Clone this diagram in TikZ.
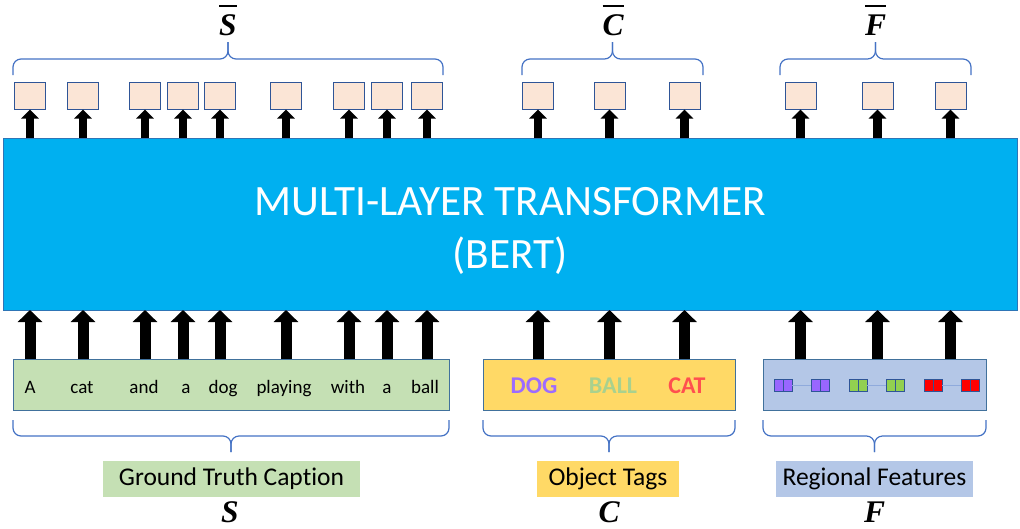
\documentclass[tikz,border=0pt]{standalone}
\usepackage{fontspec}
\setmainfont{Carlito}[Ligatures=NoCommon]
\newfontfamily\letterfont{Liberation Serif}
\usetikzlibrary{arrows.meta}

\definecolor{bertblue}{HTML}{00B0F0}
\definecolor{bertedge}{HTML}{2E75B6}
\definecolor{tokfill}{HTML}{FBE5D6}
\definecolor{tokedge}{HTML}{2F5597}
\definecolor{boxedge}{HTML}{41719C}
\definecolor{capgreen}{HTML}{C5E0B4}
\definecolor{tagyellow}{HTML}{FFD966}
\definecolor{featblue}{HTML}{B4C7E7}
\definecolor{bracecol}{HTML}{4472C4}
\definecolor{dogcol}{HTML}{9D6BFF}
\definecolor{ballcol}{HTML}{A9D18E}
\definecolor{catcol}{HTML}{FF4F4F}
\definecolor{sqpurple}{HTML}{9966FF}
\definecolor{sqgreen}{HTML}{92D050}
\definecolor{sqred}{HTML}{FF0000}
\definecolor{linkcol}{HTML}{8FAADC}

% letter with a bar over it
\newcommand\barred[1]{\vbox{\hrule height 2.2pt\kern 7pt\hbox{#1}}}

% curly brace: x-left, x-right, y-ends, y-middle, y-tip
\newcommand\curly[5]{%
  \draw[brc] (#1,#3) -- (#1,#4) -- ({(#1+#2)/2},#4) -- ({(#1+#2)/2},#5);
  \draw[brc] (#2,#3) -- (#2,#4) -- ({(#1+#2)/2},#4) -- ({(#1+#2)/2},#5);}

\tikzset{
  bertbox/.style={draw=bertedge, line width=0.8pt, fill=bertblue,
    inner sep=0pt, outer sep=0pt,
    minimum width=1014pt, minimum height=172pt},
  titletext/.style={text=white, align=center, inner sep=0pt,
    font=\fontsize{43.3}{53}\selectfont},
  tok/.style={draw=tokedge, line width=0.9pt, fill=tokfill,
    minimum width=31pt, minimum height=27.5pt, inner sep=0pt, outer sep=0pt},
  inbox/.style={draw=boxedge, line width=0.9pt, minimum height=51pt,
    inner sep=0pt, outer sep=0pt},
  word/.style={anchor=base, inner sep=0pt, font=\fontsize{19}{19}\selectfont},
  tagword/.style={anchor=base, inner sep=0pt, font=\bfseries\fontsize{24}{24}\selectfont},
  sq/.style={draw=tokedge, line width=0.7pt, minimum width=9pt,
    minimum height=12pt, inner sep=0pt, outer sep=0pt},
  link/.style={draw=linkcol, line width=0.9pt},
  lab/.style={minimum height=36pt, inner sep=0pt,
    font=\fontsize{25.5}{25.5}\selectfont},
  letter/.style={anchor=base, inner sep=0pt,
    font=\letterfont\bfseries\itshape\fontsize{31.5}{31.5}\selectfont},
  brc/.style={draw=bracecol, line width=1.2pt, rounded corners=8pt},
  smallup/.style={line width=8.5pt, -{Triangle[width=17pt,length=9pt]}, black},
  bigup/.style={line width=11pt, -{Triangle[width=24pt,length=12pt]}, black}
}

\begin{document}
\begin{tikzpicture}[x=1pt,y=-1pt]
\useasboundingbox (0,0) rectangle (1020,528);

% transformer block
\node[bertbox] (bert) at (510,224) {};
\node[titletext] (berttitle) at (510,230.5) {MULTI-LAYER TRANSFORMER\\(BERT)};

% input boxes
\node[inbox, fill=capgreen, minimum width=436pt] (cap) at (231,384.5) {};
\node[inbox, fill=tagyellow, minimum width=252pt] (tags) at (609,384.5) {};
\node[inbox, fill=featblue, minimum width=223pt] (feat) at (874.5,384.5) {};

% caption words
\foreach \x/\w [count=\i] in {30/A,82/cat,144/and,186/a,223/dog,284/playing,348/with,387/a,425/ball}
  \node[word] (w\i) at (\x,393) {\w};

% object tags
\node[tagword, text=dogcol] (dog) at (534,393) {DOG};
\node[tagword, text=ballcol] (ball) at (613,393) {BALL};
\node[tagword, text=catcol] (cat) at (687,393) {CAT};

% region feature pairs
\foreach \c/\xa/\xb/\n in {sqpurple/778.5/787.5/1, sqpurple/815.5/824.5/2,
    sqgreen/853.5/862.5/3, sqgreen/890.5/899.5/4,
    sqred/928.5/937.5/5, sqred/965.5/974.5/6} {
  \node[sq, fill=\c] (f\n a) at (\xa,385) {};
  \node[sq, fill=\c] (f\n b) at (\xb,385) {};
}
\draw[link] (f1b.east) -- (f2a.west);
\draw[link] (f3b.east) -- (f4a.west);
\draw[link] (f5b.east) -- (f6a.west);

% output tokens with arrows
\foreach \x [count=\i] in {30,83,145,183,220,286,349,387,427} {
  \node[tok] (s\i) at (\x,95.75) {};
  \draw[smallup] (s\i |- bert.north) -- (s\i.south);
  \draw[bigup] (s\i |- cap.north) -- (s\i |- bert.south);
}
\foreach \x [count=\i] in {538,609.5,684.5} {
  \node[tok] (c\i) at (\x,95.75) {};
  \draw[smallup] (c\i |- bert.north) -- (c\i.south);
  \draw[bigup] (c\i |- tags.north) -- (c\i |- bert.south);
}
\foreach \x [count=\i] in {800.5,877.5,950.5} {
  \node[tok] (r\i) at (\x,95.75) {};
  \draw[smallup] (r\i |- bert.north) -- (r\i.south);
  \draw[bigup] (r\i |- feat.north) -- (r\i |- bert.south);
}

% braces over outputs
\curly{13}{443}{75}{59}{42}
\curly{522}{703}{75}{59}{42}
\curly{780}{971}{75}{59}{42}

% braces under inputs
\curly{13}{449}{420}{436}{452}
\curly{483}{735}{420}{436}{452}
\curly{763}{986}{420}{436}{452}

% output symbols
\node[letter] (Sbar) at (228,35) {\barred{S}};
\node[letter] (Cbar) at (613,35) {\barred{C}};
\node[letter] (Fbar) at (875.5,35) {\barred{F}};

% input labels
\node[lab, fill=capgreen, minimum width=257pt] (capl) at (231.5,479) {Ground Truth Caption};
\node[lab, fill=tagyellow, minimum width=142pt] (tagl) at (608,479) {Object Tags};
\node[lab, fill=featblue, minimum width=197pt] (featl) at (874.5,479) {Regional Features};

\node[letter] (S) at (230,522) {S};
\node[letter] (C) at (609,522) {C};
\node[letter] (F) at (874.5,522) {F};
\end{tikzpicture}
\end{document}
